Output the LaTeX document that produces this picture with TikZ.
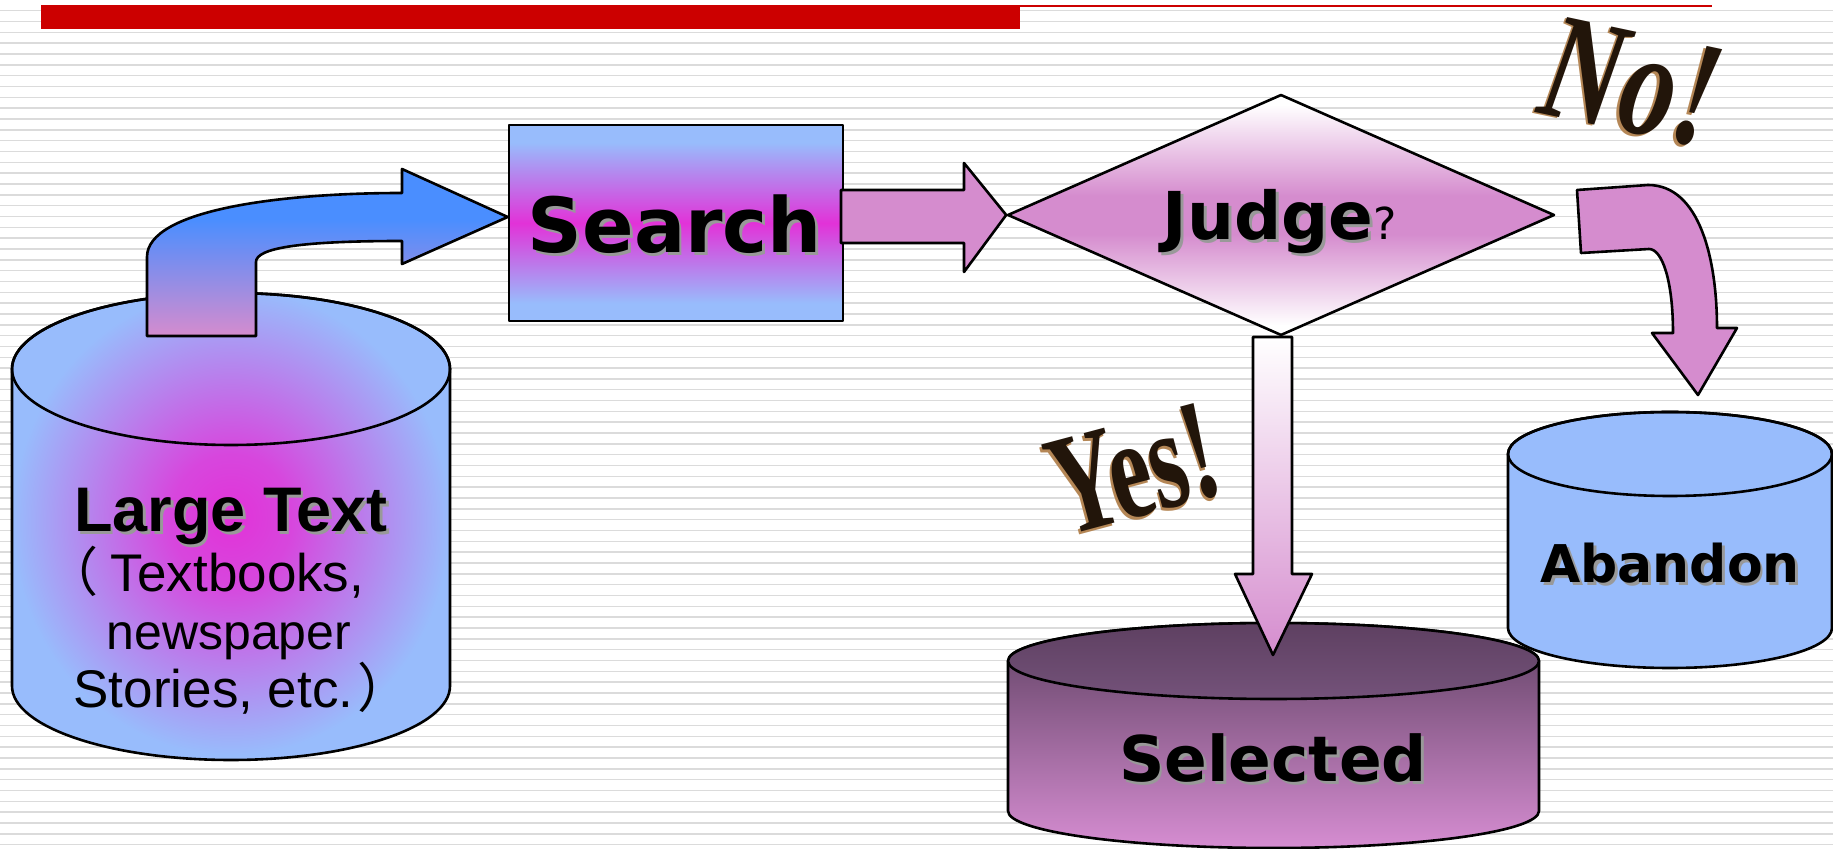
\documentclass[tikz,border=0pt]{standalone}
\usepackage{fontspec}
\setmainfont{Liberation Sans}
\newfontfamily\verdana{DejaVu Sans}
\newfontfamily\cjk{Noto Sans CJK SC}
\newfontfamily\artfont{Liberation Serif}
\usetikzlibrary{shapes.geometric}

\definecolor{barred}{HTML}{CC0000}
\definecolor{skyblue}{HTML}{98BCFC}
\definecolor{hotpink}{HTML}{E232D8}
\definecolor{orchidpink}{HTML}{D58CCE}
\definecolor{deepblue}{HTML}{4A8EFF}
\definecolor{plumtop}{HTML}{5E4061}
\definecolor{plumbottom}{HTML}{D68DD2}
\definecolor{plumcap}{HTML}{74527A}
\definecolor{bronze}{HTML}{B58756}
\definecolor{darkbrown}{HTML}{22150A}

\pgfdeclareradialshading{storefill}{\pgfpoint{0bp}{1bp}}{color(0bp)=(hotpink); color(7bp)=(hotpink!85!skyblue); color(16bp)=(hotpink!42!skyblue); color(25bp)=(skyblue); color(50bp)=(skyblue)}
\pgfdeclareverticalshading{searchfill}{100bp}{color(0bp)=(skyblue); color(29.5bp)=(skyblue); color(50bp)=(hotpink); color(70.5bp)=(skyblue); color(100bp)=(skyblue)}
\pgfdeclareverticalshading{judgefill}{100bp}{color(0bp)=(white); color(27bp)=(white); color(46bp)=(orchidpink); color(54bp)=(orchidpink); color(73bp)=(white); color(100bp)=(white)}
\pgfdeclareverticalshading{liftfill}{100bp}{color(0bp)=(orchidpink); color(25bp)=(orchidpink); color(60bp)=(deepblue); color(100bp)=(deepblue)}

\newcommand\shadowed[1]{\leavevmode\rlap{\kern1.4pt\raisebox{-1.4pt}{\color{black!40}#1}}#1}
\newcommand\bronzed[1]{\leavevmode\rlap{\kern-1.6pt\raisebox{-1.2pt}{\color{bronze}#1}}{\color{darkbrown}#1}}

\begin{document}
\begin{tikzpicture}[x=0.5pt, y=-0.5pt,
    outline/.style={draw=black, line width=1.3pt, line join=round},
    stripe/.style={black!14, line width=0.75pt},
    heading/.style={inner sep=0pt, anchor=base},
    wordart/.style={inner sep=0pt, font=\artfont\bfseries\fontsize{72}{80}\selectfont}]
\useasboundingbox (0,0) rectangle (1833,849);
\fill[white] (0,0) rectangle (1833,849);
\foreach \k in {0,...,77}
    \draw[stripe] (0,{10.7+10.83*\k}) -- (1833,{10.7+10.83*\k});

% title bar
\fill[barred] (41,5) rectangle (1020,29);
\fill[barred] (1020,4.7) rectangle (1712,6.9);

% source store
\path[outline, shade, shading=storefill] (12,369) -- (12,686)
    arc[start angle=180, end angle=0, x radius=219, y radius=74] -- (450,369)
    arc[start angle=0, end angle=-180, x radius=219, y radius=76] -- cycle;
\draw[outline] (231,369) ellipse[x radius=219, y radius=76];
\node[heading, font=\bfseries\fontsize{31.5}{36}\selectfont] (bigtext) at (231,532) {\shadowed{Large Text}};
\node[heading, font=\fontsize{26.5}{29}\selectfont] (srcone) at (205,592) {{\cjk （}\kern6pt Textbooks,};
\node[heading, font=\fontsize{25}{29}\selectfont] (srctwo) at (229,650) {newspaper};
\node[heading, font=\fontsize{26.5}{29}\selectfont] (srcthree) at (242,708) {Stories, etc.\kern2pt{\cjk ）}};

% search and judge
\node[outline, rectangle, minimum width=167pt, minimum height=98pt, inner sep=0pt,
    shade, shading=searchfill] (search) at (676,223) {};
\node[heading, font=\verdana\bfseries\fontsize{38}{40}\selectfont] (searchtext) at (675,253) {\shadowed{Search}};
\node[outline, diamond, minimum width=273.5pt, minimum height=120.5pt, inner sep=0pt,
    shade, shading=judgefill] (judge) at (1281,215) {};
\node[heading, font=\verdana\bfseries\fontsize{33}{36}\selectfont] (judgetext) at (1280,240)
    {\shadowed{Judge}{\mdseries\fontsize{22}{24}\selectfont ?}};

% block arrows
\path[outline, shade, shading=liftfill] (147,336) -- (147,257)
    .. controls (147,210) and (280,193) .. (402,193) -- (402,169) -- ([yshift=3pt]search.west)
    -- (402,264) -- (402,241) .. controls (300,241) and (256,248) .. (256,262) -- (256,336) -- cycle;
\path[outline, fill=orchidpink] (841,190) -- (964,190) -- (964,163) -- (judge.west)
    -- (964,272) -- (964,243) -- (841,243) -- cycle;

% selected store
\path[outline, top color=plumtop, bottom color=plumbottom] (1008,661) -- (1008,811)
    arc[start angle=180, end angle=0, x radius=265.5, y radius=37] -- (1539,661)
    arc[start angle=0, end angle=-180, x radius=265.5, y radius=38] -- cycle;
\path[outline, top color=plumtop, bottom color=plumcap] (1273.5,661) ellipse[x radius=265.5, y radius=38];
\node[heading, font=\verdana\bfseries\fontsize{31.5}{36}\selectfont] (selectedtext) at (1273,782) {\shadowed{Selected}};
\path[outline, top color=white, bottom color=orchidpink] (1253,337) -- (1253,574) -- (1235,574)
    -- (1273,655) -- (1312,574) -- (1292,574) -- (1292,337) -- cycle;

% abandon store
\path[outline, fill=skyblue] (1508,454) -- (1508,628)
    arc[start angle=180, end angle=0, x radius=162, y radius=40] -- (1832,454)
    arc[start angle=0, end angle=-180, x radius=162, y radius=42] -- cycle;
\draw[outline] (1670,454) ellipse[x radius=162, y radius=42];
\node[heading, font=\verdana\bfseries\fontsize{26}{30}\selectfont] (abandontext) at (1670,583) {\shadowed{Abandon}};
\path[outline, fill=orchidpink] (1577,190) -- (1648,185) .. controls (1700,185) and (1717,260) .. (1717,328)
    -- (1737,328) -- (1698,395) -- (1652,333) -- (1673,333) .. controls (1673,280) and (1662,249) .. (1649,249)
    -- (1581,253) -- cycle;

% yes / no
\node[wordart, rotate=15] (yes) at (1134,471) {\scalebox{0.66}[1]{\bronzed{Yes!}}};
\node[wordart, rotate=-12, font=\artfont\bfseries\fontsize{76}{84}\selectfont] (no) at (1632,84)
    {\scalebox{0.72}[1]{\bronzed{\itshape No!}}};
\end{tikzpicture}
\end{document}
